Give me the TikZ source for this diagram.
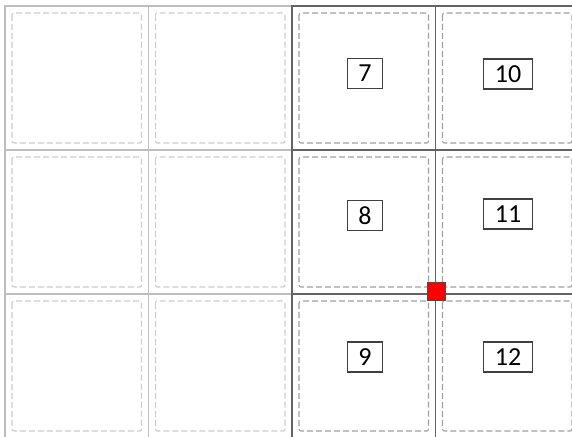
\documentclass[tikz,border=0pt]{standalone}
\usepackage{fontspec}
\setmainfont{Carlito}
\usetikzlibrary{positioning}
\definecolor{gridlight}{RGB}{190,190,190}
\definecolor{griddark}{RGB}{100,100,100}
\definecolor{dashlight}{RGB}{205,205,205}
\definecolor{dashdark}{RGB}{160,160,160}
\tikzset{
  cellline/.style={line width=1.4pt},
  innercell/.style={dash pattern=on 6pt off 3pt,line width=1.1pt,rounded corners=2pt},
  tag/.style={draw=black!75,line width=1.3pt,fill=white,
    font=\fontsize{26}{28}\selectfont,inner xsep=11pt,inner ysep=0pt,minimum height=30pt},
  marker/.style={draw=black!70,fill=red,line width=0.8pt,minimum size=18pt,inner sep=0pt},
}
\begin{document}
\begin{tikzpicture}[x=1pt,y=-1pt]
  \useasboundingbox (0,0) rectangle (572,436);
  % empty cells on the left
  \foreach \c in {0,1}
    \foreach \r in {0,1,2} {
      \draw[cellline,gridlight] (5+\c*143.5,6+\r*144) rectangle ++(143.5,144);
      \draw[innercell,dashlight] (12+\c*143.5,13+\r*144) rectangle ++(129.5,130);
    }
  % numbered cells
  \foreach \c in {2,3}
    \foreach \r in {0,1,2} {
      \draw[cellline,griddark] (5+\c*143.5,6+\r*144) rectangle ++(143.5,144);
      \draw[innercell,dashdark] (12+\c*143.5,13+\r*144) rectangle ++(129.5,130);
    }
  \foreach \n/\x/\y in {7/365/73.5,8/365/215.5,9/365/357,10/508/74,11/508/214,12/508/357}
    \node[tag] (tag\n) at (\x,\y) {\n};
  \node[marker] (corner) at (436,291) {};
\end{tikzpicture}
\end{document}
